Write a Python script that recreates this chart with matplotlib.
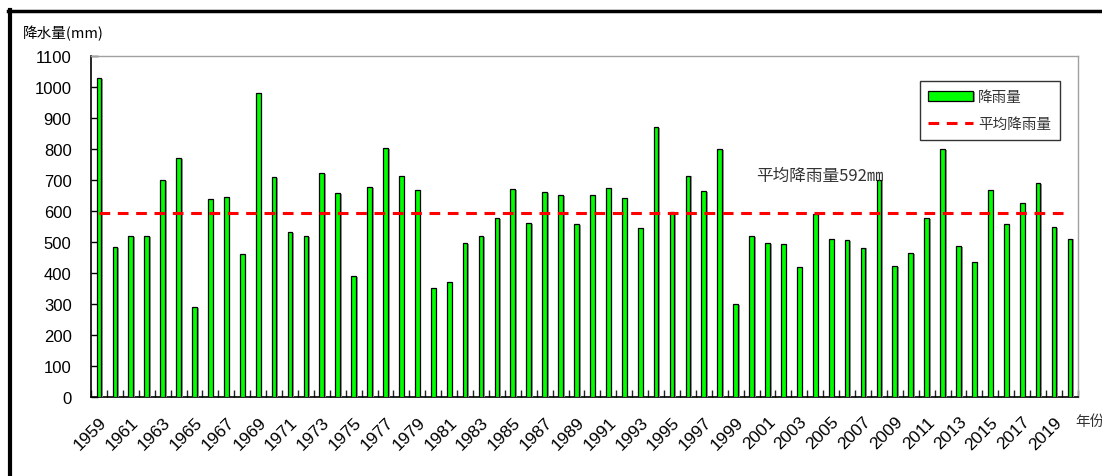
import numpy as np
import matplotlib
matplotlib.use('Agg')
import matplotlib.pyplot as plt
import matplotlib.patheffects as pe
from matplotlib.lines import Line2D

plt.rcParams['font.family'] = ['Liberation Sans', 'Noto Sans CJK SC', 'DejaVu Sans']

# annual rainfall (mm)
years = list(range(1959, 2021))
rain = [1029, 484, 519, 519, 700, 770, 290, 640, 645, 461,
        982, 710, 533, 519, 723, 657, 390, 677, 803, 712,
        668, 351, 370, 497, 519, 576, 671, 562, 660, 652,
        557, 652, 674, 643, 545, 870, 597, 714, 663, 801,
        301, 519, 497, 494, 419, 591, 511, 505, 482, 699,
        423, 465, 576, 801, 487, 437, 668, 557, 626, 691,
        548, 511]
avg_rain = 592
year_labels = [str(y) for y in years[::2]]

fig = plt.figure(figsize=(11.02, 4.77), dpi=100)
ax = fig.add_axes([0.0826, 0.1656, 0.8955, 0.7149])

shadow = [pe.SimplePatchShadow(offset=(1.2, -0.6), shadow_rgbFace='#9a9a9a', alpha=1.0), pe.Normal()]
bars = ax.bar(years, rain, width=0.3, color='#00ff00', edgecolor='black', linewidth=0.9,
              label='降雨量', zorder=3)
for b in bars:
    b.set_path_effects(shadow)

avg_line, = ax.plot(years, [avg_rain] * len(years), color='#ff0000', linestyle=(0, (3.5, 2.5)),
                    linewidth=2.2, label='平均降雨量', zorder=4)

ax.text(2000.3, 716, '平均降雨量592㎜', fontsize=12, color='#333333', va='center', ha='left',
        family=['Noto Sans CJK SC', 'DejaVu Sans'], zorder=5)

ax.set_xlim(1958.5, 2020.5)
ax.set_ylim(0, 1100)
ax.set_yticks(range(0, 1101, 100))
ax.tick_params(axis='y', direction='in', length=5, width=1, labelsize=12, pad=14)

ax.set_xticks(years[::2])
ax.set_xticklabels(year_labels, rotation=45, ha='right', rotation_mode='anchor', fontsize=12.5)
ax.tick_params(axis='x', which='major', length=0, pad=12)
ax.set_xticks(np.arange(1958.5, 2021, 1), minor=True)
ax.tick_params(axis='x', which='minor', direction='in', length=5, width=1, color='#222222')

for s in ['left', 'bottom']:
    ax.spines[s].set_color('black')
    ax.spines[s].set_linewidth(1.2)
for s in ['top', 'right']:
    ax.spines[s].set_color('#a0a0a0')
    ax.spines[s].set_linewidth(1.0)

leg = ax.legend([bars, avg_line], ['降雨量', '平均降雨量'], loc='upper right',
                bbox_to_anchor=(0.989, 0.947), fancybox=False, framealpha=1,
                edgecolor='#333333', handlelength=3.1, borderpad=0.6, labelspacing=0.9,
                handletextpad=0.3, prop={'family': ['Noto Sans CJK SC', 'DejaVu Sans'], 'size': 10.5})
leg.get_frame().set_linewidth(1.0)
for t in leg.get_texts():
    t.set_color('#333333')

fig.text(23 / 1102, 1 - 33 / 477, '降水量(mm)', fontsize=10.5, va='center', ha='left',
         family=['Noto Sans CJK SC', 'DejaVu Sans'])
fig.text(1075 / 1102, 1 - 422 / 477, '年份', fontsize=10.5, va='center', ha='left', color='#333333',
         family=['Noto Sans CJK SC', 'DejaVu Sans'])

# outer frame of the screenshot
fig.add_artist(Line2D([8 / 1102, 1], [1 - 12 / 477, 1 - 12 / 477], color='black', linewidth=2.5,
                      transform=fig.transFigure))
fig.add_artist(Line2D([9.5 / 1102, 9.5 / 1102], [0, 1 - 11 / 477], color='black', linewidth=3,
                      transform=fig.transFigure))

fig.savefig('out.png', dpi=100)
